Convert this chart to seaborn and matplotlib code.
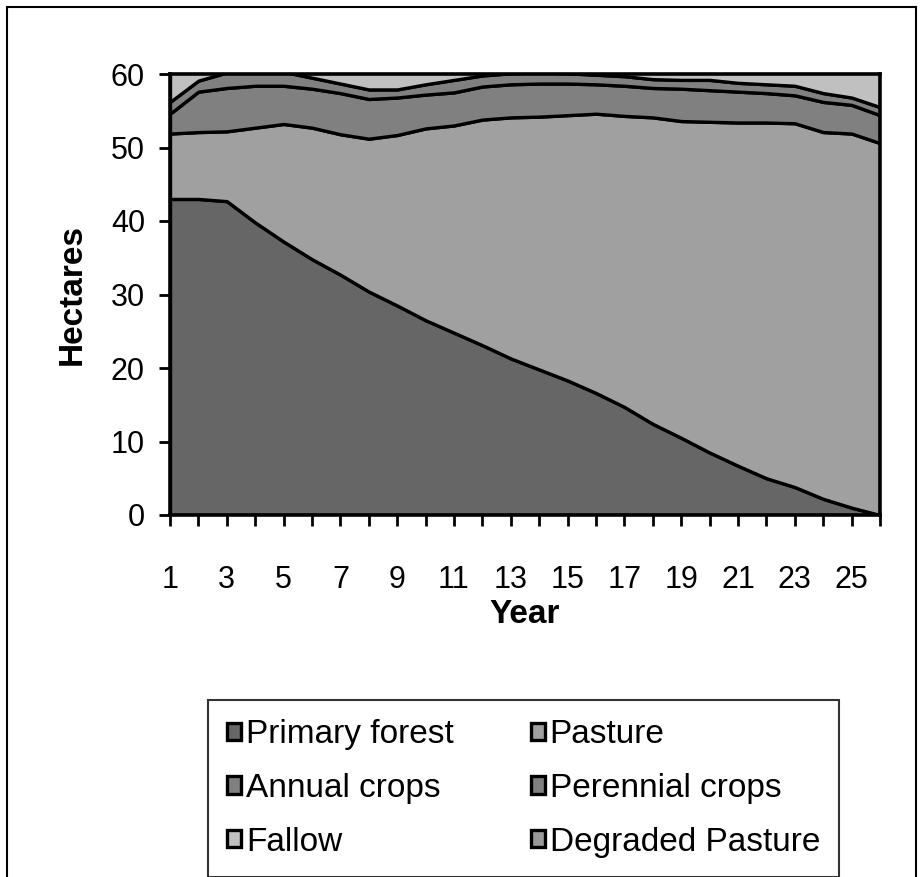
import numpy as np
import pandas as pd
import matplotlib
matplotlib.use("Agg")
import matplotlib.pyplot as plt
from matplotlib.patches import Patch, Rectangle
import seaborn as sns

# land use per year (hectares)
years = list(range(1, 27))
primary_forest = [43.0, 43.0, 42.7, 39.8, 37.2, 34.8, 32.7, 30.4, 28.5, 26.5, 24.8, 23.1, 21.3,
                  19.8, 18.3, 16.6, 14.7, 12.4, 10.5, 8.5, 6.7, 5.0, 3.8, 2.2, 1.0, 0.0]
pasture = [8.9, 9.1, 9.5, 12.9, 16.0, 17.9, 19.1, 20.8, 23.2, 26.1, 28.2, 30.7, 32.8,
           34.4, 36.1, 38.0, 39.6, 41.7, 43.1, 45.0, 46.7, 48.4, 49.5, 49.9, 50.9, 50.6]
annual_crops = [2.7, 5.5, 5.9, 5.7, 5.2, 5.3, 5.6, 5.4, 5.1, 4.6, 4.5, 4.5, 4.5,
                4.5, 4.3, 4.0, 4.1, 4.0, 4.4, 4.3, 4.2, 4.0, 3.8, 4.1, 3.9, 3.8]
perennial_crops = [1.6, 1.5, 2.1, 2.0, 1.9, 1.5, 1.3, 1.3, 1.1, 1.4, 1.7, 1.5, 1.5,
                   1.5, 1.4, 1.3, 1.3, 1.2, 1.2, 1.4, 1.2, 1.2, 1.3, 1.2, 1.0, 1.1]
# these two lie above the 60 ha axis limit, so only the lower edge of fallow shows
fallow = [4.5, 3.5, 3.0, 2.8, 2.6, 2.9, 3.2, 3.6, 3.8, 3.5, 3.3, 3.0, 2.8,
          2.6, 2.7, 2.9, 3.1, 3.3, 3.5, 3.6, 3.8, 4.0, 4.2, 4.5, 4.9, 5.4]
degraded_pasture = [0.0, 0.2, 0.4, 0.6, 0.8, 1.0, 1.2, 1.4, 1.5, 1.6, 1.7, 1.8, 1.9,
                    2.0, 2.1, 2.2, 2.3, 2.4, 2.5, 2.6, 2.7, 2.8, 2.9, 3.0, 3.1, 3.2]
x_tick_labels = [str(y) if y % 2 == 1 else "" for y in years]

df = pd.DataFrame({"Year": years,
                   "Primary forest": primary_forest,
                   "Pasture": pasture,
                   "Annual crops": annual_crops,
                   "Perennial crops": perennial_crops,
                   "Fallow": fallow,
                   "Degraded Pasture": degraded_pasture})
series = ["Primary forest", "Pasture", "Annual crops", "Perennial crops", "Fallow", "Degraded Pasture"]
colors = {"Primary forest": "#666666", "Pasture": "#a0a0a0", "Annual crops": "#808080",
          "Perennial crops": "#808080", "Fallow": "#c0c0c0", "Degraded Pasture": "#999999"}

sns.set_style("white", {"xtick.bottom": True, "ytick.left": True, "text.color": "black",
                        "axes.labelcolor": "black", "xtick.color": "black", "ytick.color": "black"})
plt.rcParams['font.family'] = ['Liberation Sans', 'DejaVu Sans']

fig = plt.figure(figsize=(9.24, 8.77), dpi=100)
ax = fig.add_axes([170/924, 1-515/877, 710/924, 441/877])

ax.stackplot(df["Year"], *[df[s] for s in series], colors=[colors[s] for s in series],
             edgecolor="black", linewidth=2.4)

ax.set_xlim(1, 26)
ax.set_ylim(0, 60)
ax.set_yticks(range(0, 61, 10))
ax.set_xticks(years)
ax.set_xticklabels(x_tick_labels)
ax.tick_params(axis="both", labelsize=22, colors="black", direction="out", width=2, length=8,
               bottom=True, left=True)
ax.tick_params(axis="x", pad=28)
ax.tick_params(axis="y", pad=10)
for sp in ax.spines.values():
    sp.set_linewidth(2.6)
    sp.set_color("black")
    sp.set_visible(True)
ax.set_ylabel("Hectares", fontsize=24, fontweight="bold", labelpad=17, color="black")
ax.set_xlabel("Year", fontsize=24, fontweight="bold", labelpad=3, color="black")

# legend order: filled column-wise by matplotlib
order = ["Primary forest", "Annual crops", "Fallow", "Pasture", "Perennial crops", "Degraded Pasture"]
handles = [Patch(facecolor=colors[s], edgecolor="black", linewidth=2.4, label=s) for s in order]
leg = fig.legend(handles=handles, ncol=2, loc="upper left",
                 bbox_to_anchor=(208/924, 1-700/877), borderaxespad=0, frameon=True, fontsize=24,
                 handlelength=0.42, handleheight=0.42, handletextpad=0.15,
                 columnspacing=2.3, labelspacing=0.68, borderpad=0.58, fancybox=False)
leg.get_frame().set_edgecolor("black")
leg.get_frame().set_linewidth(1.5)
for t in leg.get_texts():
    t.set_color("black")

fig.patches.append(Rectangle((7/924, -0.05), 909/924, 1.05 - 7/877, transform=fig.transFigure,
                             fill=False, edgecolor="black", linewidth=1.5))

fig.savefig("out.png", dpi=100)
